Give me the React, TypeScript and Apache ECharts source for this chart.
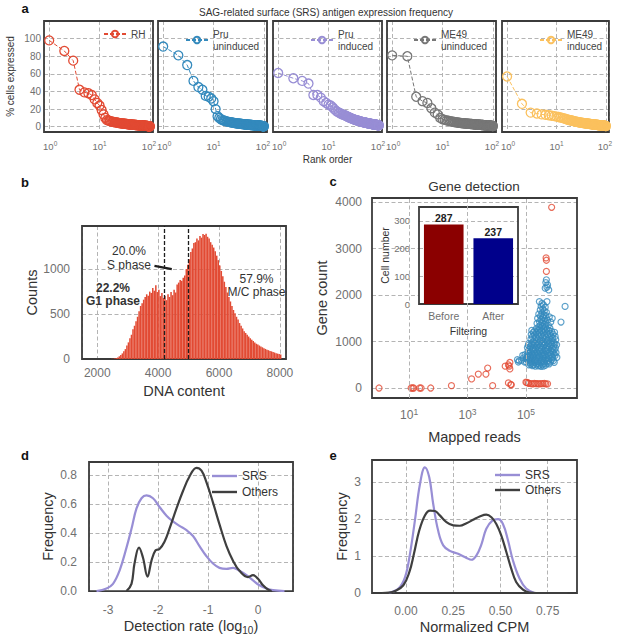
import React, { useEffect, useRef } from 'react';
import * as echarts from 'echarts';

// ---------------- panel a: SRS antigen expression frequency ----------------
const SAMPLE_NAMES = ['RH', 'Pru\nuninduced', 'Pru\ninduced', 'ME49\nuninduced', 'ME49\ninduced'];
const RH = [98, 86, 75, 42, 39, 38, 36, 31, 27, 24, 19, 14, 10, 7.5, 7, 6.5, 6, 5.7, 5.4, 5.1, 4.9, 4.7, 4.5, 4.3, 4.1, 4, 3.8, 3.7, 3.6, 3.5, 3.4, 3.3, 3.2, 3.1, 3, 2.9, 2.8, 2.8, 2.7, 2.6, 2.6, 2.5, 2.4, 2.4, 2.3, 2.3, 2.2, 2.2, 2.1, 2.1, 2, 2, 1.9, 1.9, 1.8, 1.8, 1.8, 1.7, 1.7, 1.7, 1.6, 1.6, 1.6, 1.5, 1.5, 1.5, 1.4, 1.4, 1.4, 1.3, 1.3, 1.3, 1.3, 1.2, 1.2, 1.2, 1.1, 1.1, 1.1, 1.1, 1, 1, 1, 0.9, 0.9, 0.9, 0.9, 0.8, 0.8, 0.8, 0.7, 0.7, 0.7, 0.6, 0.6, 0.6, 0.5, 0.5, 0.4, 0.3];
const PRU_UNINDUCED = [91, 81, 70, 52, 45, 42, 35, 34, 32, 29, 20, 12, 10, 8.5, 7.5, 7, 6.5, 6.1, 5.8, 5.5, 5.2, 5, 4.8, 4.6, 4.4, 4.2, 4.1, 3.9, 3.8, 3.7, 3.6, 3.5, 3.4, 3.3, 3.2, 3.1, 3, 2.9, 2.9, 2.8, 2.7, 2.7, 2.6, 2.5, 2.5, 2.4, 2.4, 2.3, 2.3, 2.2, 2.2, 2.1, 2.1, 2, 2, 1.9, 1.9, 1.9, 1.8, 1.8, 1.8, 1.7, 1.7, 1.7, 1.6, 1.6, 1.6, 1.5, 1.5, 1.5, 1.4, 1.4, 1.4, 1.3, 1.3, 1.3, 1.3, 1.2, 1.2, 1.2, 1.1, 1.1, 1.1, 1.1, 1, 1, 1, 0.9, 0.9, 0.9, 0.8, 0.8, 0.8, 0.7, 0.7, 0.7, 0.6, 0.6, 0.5, 0.4];
const PRU_INDUCED = [61, 55, 52, 49, 36, 36, 33, 29, 27, 25, 24, 22, 20, 18, 17, 16, 15.2, 14.5, 13.9, 13.4, 13, 12.4, 11.8, 11.3, 10.8, 10.4, 10, 9.6, 9.2, 8.9, 8.6, 8.3, 8, 7.8, 7.5, 7.3, 7.1, 6.9, 6.7, 6.5, 6.3, 6.1, 5.9, 5.8, 5.6, 5.5, 5.3, 5.2, 5.1, 5, 4.9, 4.8, 4.7, 4.6, 4.5, 4.4, 4.3, 4.2, 4.1, 4, 3.9, 3.8, 3.7, 3.6, 3.5, 3.5, 3.4, 3.3, 3.2, 3.2, 3.1, 3, 3, 2.9, 2.8, 2.8, 2.7, 2.7, 2.6, 2.6, 2.5, 2.5, 2.4, 2.4, 2.3, 2.3, 2.2, 2.2, 2.1, 2.1, 2, 2, 1.9, 1.9, 1.8, 1.8, 1.7, 1.7, 1.6, 1.5];
const ME49_UNINDUCED = [81, 80, 34, 29, 27, 21, 16, 14, 10, 8.5, 7.8, 7.2, 6.7, 6.3, 5.9, 5.6, 5.3, 5.1, 4.9, 4.7, 4.5, 4.4, 4.2, 4.1, 4, 3.9, 3.8, 3.7, 3.6, 3.5, 3.4, 3.4, 3.3, 3.2, 3.2, 3.1, 3, 3, 2.9, 2.9, 2.8, 2.8, 2.7, 2.7, 2.6, 2.6, 2.5, 2.5, 2.4, 2.4, 2.3, 2.3, 2.3, 2.2, 2.2, 2.1, 2.1, 2.1, 2, 2, 2, 1.9, 1.9, 1.9, 1.8, 1.8, 1.8, 1.7, 1.7, 1.7, 1.6, 1.6, 1.6, 1.6, 1.5, 1.5, 1.5, 1.4, 1.4, 1.4, 1.4, 1.3, 1.3, 1.3, 1.2, 1.2, 1.2, 1.2, 1.1, 1.1, 1.1, 1, 1, 1, 0.9, 0.9, 0.9, 0.8, 0.8, 0.7];
const ME49_INDUCED = [57, 26, 16, 15, 14, 13.5, 13, 12.5, 12, 11.5, 11, 10.5, 10, 9.5, 9, 8.5, 8, 7.6, 7.3, 7, 6.7, 6.4, 6.1, 5.9, 5.7, 5.5, 5.3, 5.1, 4.9, 4.8, 4.6, 4.5, 4.4, 4.3, 4.2, 4.1, 4, 3.9, 3.8, 3.7, 3.6, 3.5, 3.4, 3.4, 3.3, 3.2, 3.1, 3.1, 3, 2.9, 2.9, 2.8, 2.7, 2.7, 2.6, 2.6, 2.5, 2.5, 2.4, 2.4, 2.3, 2.3, 2.2, 2.2, 2.1, 2.1, 2, 2, 1.9, 1.9, 1.9, 1.8, 1.8, 1.7, 1.7, 1.7, 1.6, 1.6, 1.5, 1.5, 1.5, 1.4, 1.4, 1.4, 1.3, 1.3, 1.3, 1.2, 1.2, 1.2, 1.1, 1.1, 1.1, 1, 1, 1, 0.9, 0.9, 0.8, 0.8];
const SAMPLE_VALUES = [RH, PRU_UNINDUCED, PRU_INDUCED, ME49_UNINDUCED, ME49_INDUCED];

// ---------------- panel b: DNA content histogram ----------------
const DNA_BIN_START = 2450;
const DNA_BIN_WIDTH = 50;
const DNA_COUNTS = [
  2, 4, 6, 10, 18, 30, 45, 62, 85, 110,
  150, 185, 230, 270, 330, 370, 420, 470, 530, 590,
  620, 660, 690, 720, 705, 750, 735, 790, 760, 820,
  745, 770, 700, 735, 680, 700, 655, 720, 690, 745,
  710, 770, 740, 830, 850, 880, 870, 905, 930, 1000,
  1050, 1110, 1190, 1230, 1290, 1300, 1340, 1320, 1370, 1350,
  1390, 1380, 1395, 1360, 1340, 1300, 1270, 1240, 1200, 1150,
  1100, 1040, 980, 920, 860, 800, 740, 690, 640, 590,
  545, 510, 470, 440, 400, 370, 340, 310, 290, 270,
  250, 230, 215, 200, 185, 170, 160, 150, 140, 130,
  120, 112, 104, 98, 90, 85, 78, 72, 65, 60,
  55, 50,
];
const PHASE_CUTS = [4200, 5000];
const S_PHASE_POINTER = [[3880, 1037], [4450, 1000]];

// ---------------- panel c: gene detection ----------------
// [log10(mapped reads), gene count]
const FILTERED_CELLS = [
  [-0.03, 0], [1.07, 0], [1.12, 0], [1.16, 0], [1.36, 0], [1.41, 0], [1.74, 0], [2.45, 50], [3.14, 195], [3.37, 300],
  [3.63, 300], [3.69, 430], [3.86, 50], [4.29, 470], [4.40, 500], [4.45, 550], [4.43, 470], [4.45, 410], [4.40, 110], [4.48, 75],
  [4.50, 70], [5.00, 125], [5.03, 115], [5.08, 108], [5.11, 100], [5.18, 95], [5.24, 90], [5.29, 100], [5.34, 92], [5.40, 95],
  [5.45, 88], [5.51, 95], [5.57, 92], [5.63, 100], [5.68, 90], [5.74, 90], [5.88, 3890], [5.69, 2800], [5.70, 2750], [5.70, 2510],
];
const PASSED_CELLS = [
  [5.70, 2330], [5.68, 2270], [5.74, 2220], [5.72, 2170], [5.78, 2110], [5.66, 2150],
  [6.34, 1757], [6.20, 1420], [5.97, 552],
  [4.71, 610], [4.74, 560], [4.77, 590], [4.89, 700], [4.92, 650], [4.85, 600], [4.97, 720], [4.95, 560],
  [5.46, 1860], [5.72, 1860], [5.55, 1820], [5.60, 1790], [5.52, 1760], [5.66, 1740], [5.58, 1700], [5.49, 1680], [5.63, 1660], [5.70, 1630],
  [5.55, 1610], [5.44, 1590], [5.61, 1575], [5.68, 1560], [5.50, 1545],
  [5.80, 1530], [5.57, 1520], [5.40, 1500], [5.65, 1490], [5.52, 1470], [5.74, 1460], [5.60, 1445], [5.46, 1430], [5.85, 1420], [5.55, 1410],
  [5.69, 1400], [5.38, 1390], [5.63, 1375], [5.50, 1360], [5.77, 1350], [5.58, 1335], [5.44, 1320], [5.67, 1310], [5.53, 1300], [5.82, 1290],
  [5.36, 1280], [5.61, 1275], [5.72, 1265], [5.48, 1260], [5.90, 1500],
  [5.20, 1240], [5.30, 1230], [5.42, 1245], [5.55, 1235], [5.65, 1225], [5.78, 1240], [5.88, 1220], [5.98, 1200],
  [5.25, 1200], [5.35, 1190], [5.47, 1205], [5.60, 1195], [5.72, 1185], [5.83, 1175], [5.93, 1160],
  [5.18, 1150], [5.28, 1140], [5.40, 1155], [5.52, 1145], [5.63, 1135], [5.75, 1150], [5.86, 1125], [6.00, 1110],
  [5.22, 1100], [5.33, 1090], [5.45, 1105], [5.57, 1085], [5.68, 1095], [5.80, 1080], [5.91, 1070],
  [5.17, 1050], [5.30, 1040], [5.42, 1055], [5.54, 1035], [5.66, 1045], [5.77, 1030], [5.89, 1020], [6.02, 1040],
  [5.25, 1000], [5.37, 990], [5.49, 1005], [5.61, 985], [5.73, 995], [5.85, 980], [5.95, 975],
  [5.10, 960], [5.20, 955], [5.31, 965], [5.43, 950], [5.54, 960], [5.66, 945], [5.77, 955], [5.88, 940], [5.99, 950], [6.05, 930],
  [5.08, 920], [5.18, 910], [5.27, 925], [5.39, 915], [5.50, 905], [5.62, 920], [5.73, 900], [5.84, 915], [5.95, 895],
  [5.05, 870], [5.14, 880], [5.24, 860], [5.35, 875], [5.46, 865], [5.57, 880], [5.68, 855], [5.79, 870], [5.90, 850], [6.01, 860],
  [5.12, 830], [5.22, 820], [5.33, 835], [5.44, 815], [5.55, 825], [5.66, 810], [5.76, 830], [5.87, 805], [5.97, 820],
  [5.07, 790], [5.16, 780], [5.26, 795], [5.37, 775], [5.48, 785], [5.59, 770], [5.70, 790], [5.81, 765], [5.92, 780], [6.03, 760],
  [5.10, 745], [5.20, 735], [5.30, 750], [5.41, 730], [5.52, 740], [5.63, 725], [5.74, 745], [5.85, 720], [5.96, 735],
  [5.04, 700], [5.14, 690], [5.24, 705], [5.35, 685], [5.46, 695], [5.57, 680], [5.68, 700], [5.79, 690], [5.90, 685], [6.00, 700],
  [5.28, 720], [5.58, 712],
  [5.06, 670], [5.15, 660], [5.25, 665], [5.36, 650], [5.47, 660], [5.58, 645], [5.69, 655], [5.80, 640], [5.91, 650], [6.06, 660],
  [5.03, 625], [5.12, 615], [5.22, 630], [5.33, 610], [5.44, 620], [5.55, 605], [5.66, 615], [5.77, 600], [5.88, 610],
  [5.08, 585], [5.18, 575], [5.29, 590], [5.40, 570], [5.51, 580], [5.62, 565], [5.73, 575], [5.84, 560],
  [5.12, 545], [5.21, 535], [5.31, 550], [5.42, 530], [5.52, 540], [5.63, 525], [5.74, 535],
  [5.16, 510], [5.26, 500], [5.36, 515], [5.46, 495], [5.56, 505], [5.67, 490],
  [5.22, 480], [5.32, 470], [5.42, 475], [5.52, 468], [5.00, 640], [5.01, 560], [5.94, 590], [5.80, 520], [5.60, 470], [5.10, 500],
];
const READ_TICKS = [10, 1000, 100000];
const FILTER_STAGES = ['Before', 'After'];
const CELL_NUMBERS = [287, 237];

// ---------------- panel d: detection rate density ----------------
const DETECT_SRS = [[-3.23, 0], [-3.03, 0.018], [-2.9, 0.05], [-2.77, 0.14], [-2.63, 0.30], [-2.53, 0.43], [-2.43, 0.57], [-2.33, 0.64], [-2.23, 0.66], [-2.1, 0.64], [-1.97, 0.58], [-1.83, 0.52], [-1.7, 0.48], [-1.57, 0.45], [-1.43, 0.42], [-1.3, 0.38], [-1.17, 0.31], [-1.03, 0.24], [-0.9, 0.19], [-0.77, 0.16], [-0.63, 0.153], [-0.5, 0.16], [-0.37, 0.14], [-0.23, 0.11], [-0.1, 0.074], [0.03, 0.04], [0.17, 0.018], [0.3, 0.007], [0.53, 0]];
const DETECT_OTHERS = [[-2.63, 0], [-2.53, 0.05], [-2.47, 0.19], [-2.38, 0.30], [-2.3, 0.23], [-2.21, 0.10], [-2.13, 0.21], [-2.05, 0.28], [-1.97, 0.29], [-1.87, 0.34], [-1.77, 0.43], [-1.63, 0.57], [-1.5, 0.69], [-1.37, 0.79], [-1.23, 0.85], [-1.13, 0.83], [-1.03, 0.75], [-0.9, 0.61], [-0.77, 0.46], [-0.63, 0.31], [-0.5, 0.21], [-0.37, 0.14], [-0.2, 0.097], [-0.1, 0.11], [0, 0.085], [0.1, 0.04], [0.2, 0.011], [0.27, 0]];

// ---------------- panel e: normalized CPM density ----------------
const CPM_SRS = [[-0.093, 0], [-0.04, 0.12], [-0.005, 0.43], [0.021, 1.06], [0.047, 1.96], [0.074, 2.95], [0.1, 3.4], [0.123, 3.13], [0.144, 2.41], [0.17, 1.69], [0.197, 1.29], [0.232, 1.14], [0.276, 1.06], [0.32, 0.95], [0.346, 0.9], [0.373, 1.02], [0.4, 1.33], [0.425, 1.74], [0.457, 1.96], [0.487, 2.0], [0.513, 1.87], [0.54, 1.42], [0.566, 0.88], [0.601, 0.39], [0.636, 0.12], [0.68, 0]];
const CPM_OTHERS = [[-0.128, 0], [-0.09, 0.01], [-0.058, 0.054], [-0.014, 0.21], [0.018, 0.57], [0.042, 1.06], [0.07, 1.69], [0.1, 2.1], [0.127, 2.23], [0.153, 2.22], [0.179, 2.1], [0.214, 1.92], [0.25, 1.83], [0.285, 1.82], [0.32, 1.89], [0.355, 1.98], [0.39, 2.07], [0.425, 2.12], [0.452, 2.05], [0.478, 1.87], [0.504, 1.56], [0.531, 1.11], [0.557, 0.66], [0.583, 0.3], [0.619, 0.09], [0.654, 0.01], [0.69, 0], [0.856, 0]];
const CPM_TICKS = [0, 0.25, 0.5, 0.75];

// ---------------- styling ----------------
const FONT = '"Liberation Sans", Arial, Helvetica, sans-serif';
const TICK = '#707070';
const DARK = '#333333';
const PALETTE_A = ['#E24A33', '#348ABD', '#988ED5', '#777777', '#FBC15E'];
const SRS_COLOR = '#988ED5';
const OTHERS_COLOR = '#3f3f3f';
const GRIDLINE = { show: true, lineStyle: { color: '#b4b4b4', type: [4, 2.5], width: 1 } };
const FRAME = { show: true, borderColor: '#3b3b3b', borderWidth: 1.8, backgroundColor: 'rgba(0,0,0,0)', z: 1 };
const NO_LINE = { show: false };

const supRich = (fs: number, sfs: number) => ({
  b: { fontSize: fs, color: TICK, fontFamily: FONT, lineHeight: fs + 4 },
  s: { fontSize: sfs, color: TICK, fontFamily: FONT, verticalAlign: 'top', lineHeight: sfs + 1 },
  bl: { fontSize: fs, color: TICK, fontFamily: FONT, lineHeight: fs + 4, padding: [0, 0, 0, 2] },
  sr: { fontSize: sfs, color: TICK, fontFamily: FONT, verticalAlign: 'top', lineHeight: sfs + 1, padding: [0, 2, 0, 0] },
});
const isPow10 = (v: number) => {
  const e = Math.log10(v);
  return Math.abs(e - Math.round(e)) < 1e-6;
};
const nearMultiple = (v: number, step: number) => Math.abs(v / step - Math.round(v / step)) < 1e-6;

function rankLabel(v: number) {
  if (!isPow10(v)) return '';
  const e = Math.round(Math.log10(v));
  if (e === 0) return `{bl|10}{s|${e}}`;
  if (e === 2) return `{b|10}{sr|${e}}`;
  return `{b|10}{s|${e}}`;
}

function buildOption() {
  const aLefts = [44, 158, 273, 387, 502];
  const aLegendPos = [
    { left: 103, top: 28 },
    { left: 185, top: 28 },
    { left: 310, top: 28 },
    { left: 413, top: 28 },
    { left: 539, top: 28 },
  ];

  const grids: any[] = [
    ...aLefts.map((l) => ({ left: l, top: 21, width: 109, height: 111, ...FRAME })),
    { left: 82, top: 226, width: 204, height: 133, ...FRAME }, // 5 b
    { left: 372, top: 198, width: 205, height: 200, ...FRAME }, // 6 c
    { left: 419, top: 207, width: 99, height: 97, ...FRAME, z: 5 }, // 7 inset
    { left: 89, top: 462, width: 204, height: 132, ...FRAME }, // 8 d
    { left: 372, top: 460, width: 205, height: 133, ...FRAME }, // 9 e
  ];

  const nameStyle = (fs: number) => ({ fontSize: fs, color: DARK, fontFamily: FONT });
  const tickLabel = (fs: number, margin: number, formatter: any) => ({ fontSize: fs, color: TICK, margin, formatter, fontFamily: FONT });

  const xAxes: any[] = [
    ...aLefts.map((_, i) => ({
      type: 'log', logBase: 10, gridIndex: i, min: 0.79, max: 115,
      axisLine: NO_LINE, axisTick: NO_LINE, splitLine: GRIDLINE,
      axisLabel: { margin: 8, formatter: rankLabel, rich: supRich(9.5, 6.5) },
      name: i === 2 ? 'Rank order' : '', nameLocation: 'middle', nameGap: 22, nameTextStyle: nameStyle(10),
    })),
    {
      type: 'value', gridIndex: 5, min: 1500, max: 8200, splitNumber: 3,
      axisLine: NO_LINE, axisTick: NO_LINE, splitLine: GRIDLINE,
      axisLabel: tickLabel(12, 8, (v: number) => (nearMultiple(v, 2000) ? String(v) : '')),
      name: 'DNA content', nameLocation: 'middle', nameGap: 24, nameTextStyle: nameStyle(14.5),
    },
    {
      type: 'log', logBase: 10, gridIndex: 6, min: 0.537, max: 5.6e6,
      axisLine: NO_LINE, axisTick: NO_LINE, splitLine: { show: false }, axisLabel: { show: false },
      name: 'Mapped reads', nameLocation: 'middle', nameGap: 31, nameTextStyle: nameStyle(14.5),
    },
    {
      type: 'category', gridIndex: 7, data: FILTER_STAGES, z: 4,
      axisLine: NO_LINE, axisTick: NO_LINE, splitLine: { show: false },
      axisLabel: tickLabel(10.5, 6, undefined),
      name: 'Filtering', nameLocation: 'middle', nameGap: 21, nameTextStyle: nameStyle(10.5),
    },
    {
      type: 'value', gridIndex: 8, min: -3.38, max: 0.7, splitNumber: 4,
      axisLine: NO_LINE, axisTick: NO_LINE, splitLine: GRIDLINE,
      axisLabel: tickLabel(12, 13, (v: number) => (nearMultiple(v, 1) ? String(Math.round(v)) : '')),
      name: 'Detection rate (log{sub|10})', nameLocation: 'middle', nameGap: 20,
      nameTextStyle: { ...nameStyle(14.5), lineHeight: 18, rich: { sub: { fontSize: 10, color: DARK, fontFamily: FONT, verticalAlign: 'bottom', lineHeight: 10 } } },
    },
    {
      type: 'value', gridIndex: 9, min: -0.18, max: 0.905,
      axisLine: NO_LINE, axisTick: { show: false, customValues: CPM_TICKS }, splitLine: GRIDLINE,
      axisLabel: { ...tickLabel(12, 12, (v: number) => v.toFixed(2)), customValues: CPM_TICKS },
      name: 'Normalized CPM', nameLocation: 'middle', nameGap: 26, nameTextStyle: nameStyle(14.5),
    },
  ];

  const yAxes: any[] = [
    ...aLefts.map((_, i) => ({
      type: 'value', gridIndex: i, min: -6, max: 120, splitNumber: 6,
      axisLine: NO_LINE, axisTick: NO_LINE, splitLine: GRIDLINE,
      axisLabel: { ...tickLabel(10, 3, (v: number) => (v >= 0 && v <= 100 && nearMultiple(v, 20) ? String(v) : '')), show: i === 0 },
      name: i === 0 ? '% cells expressed' : '', nameLocation: 'middle', nameGap: 29, nameTextStyle: nameStyle(10),
    })),
    {
      type: 'value', gridIndex: 5, min: 0, max: 1480, interval: 500,
      axisLine: NO_LINE, axisTick: NO_LINE, splitLine: GRIDLINE,
      axisLabel: tickLabel(12, 12, (v: number) => (nearMultiple(v, 500) ? String(v) : '')),
      name: 'Counts', nameLocation: 'middle', nameGap: 43, nameTextStyle: nameStyle(14.5),
    },
    {
      type: 'value', gridIndex: 6, min: -215, max: 4090, splitNumber: 4,
      axisLine: NO_LINE, axisTick: NO_LINE, splitLine: GRIDLINE,
      axisLabel: tickLabel(12, 10, (v: number) => (v >= 0 && nearMultiple(v, 1000) ? String(Math.round(v)) : '')),
      name: 'Gene count', nameLocation: 'middle', nameGap: 43, nameTextStyle: nameStyle(14.5),
    },
    {
      type: 'value', gridIndex: 7, min: 0, max: 350, interval: 100, z: 4,
      axisLine: NO_LINE, axisTick: NO_LINE, splitLine: GRIDLINE,
      axisLabel: tickLabel(9.5, 9, (v: number) => (nearMultiple(v, 100) ? String(v) : '')),
      name: 'Cell number', nameLocation: 'middle', nameGap: 28, nameTextStyle: nameStyle(10.5),
    },
    {
      type: 'value', gridIndex: 8, min: 0, max: 0.89, interval: 0.2,
      axisLine: NO_LINE, axisTick: NO_LINE, splitLine: GRIDLINE,
      axisLabel: tickLabel(12, 12, (v: number) => (nearMultiple(v, 0.2) ? v.toFixed(1) : '')),
      name: 'Frequency', nameLocation: 'middle', nameGap: 34, nameTextStyle: nameStyle(14.5),
    },
    {
      type: 'value', gridIndex: 9, min: 0, max: 3.6, interval: 1,
      axisLine: NO_LINE, axisTick: NO_LINE, splitLine: GRIDLINE,
      axisLabel: tickLabel(12, 11, (v: number) => (nearMultiple(v, 1) ? String(Math.round(v)) : '')),
      name: 'Frequency', nameLocation: 'middle', nameGap: 23, nameTextStyle: nameStyle(14.5),
    },
  ];

  const series: any[] = [
    ...SAMPLE_VALUES.map((vals, i) => ({
      type: 'line', name: SAMPLE_NAMES[i], xAxisIndex: i, yAxisIndex: i,
      data: vals.map((v, k) => [k + 1, v]),
      symbol: 'circle', symbolSize: 9, showAllSymbol: true,
      lineStyle: { color: PALETTE_A[i], width: 1, type: [4, 2] },
      itemStyle: { color: 'rgba(0,0,0,0)', borderColor: PALETTE_A[i], borderWidth: 1.3 },
      emphasis: { disabled: true },
    })),
    {
      type: 'bar', name: 'DNA content', xAxisIndex: 5, yAxisIndex: 5,
      data: DNA_COUNTS.map((c, i) => [DNA_BIN_START + DNA_BIN_WIDTH * (i + 0.5), c]),
      barCategoryGap: '0%', itemStyle: { color: '#E24A33' },
      emphasis: { disabled: true },
      markLine: {
        silent: true, symbol: ['none', 'none'], label: { show: false },
        lineStyle: { color: '#1e1e1e', type: [4, 2], width: 1.3 },
        data: [
          ...PHASE_CUTS.map((x) => ({ xAxis: x })),
          [
            { coord: S_PHASE_POINTER[0], lineStyle: { color: '#1e1e1e', type: 'solid', width: 2.2 } },
            { coord: S_PHASE_POINTER[1], lineStyle: { color: '#1e1e1e', type: 'solid', width: 2.2 } },
          ],
        ],
      },
    },
    {
      type: 'scatter', name: 'Filtered', xAxisIndex: 6, yAxisIndex: 6, z: 2,
      data: FILTERED_CELLS.map(([e, g]) => [Math.pow(10, e), g]),
      symbolSize: 6,
      itemStyle: { color: 'rgba(0,0,0,0)', borderColor: '#E24A33', borderWidth: 1.2 },
      emphasis: { disabled: true },
      markLine: {
        silent: true, symbol: ['none', 'none'],
        lineStyle: { color: '#b4b4b4', type: [4, 2.5], width: 1 },
        label: {
          show: true, position: 'start', distance: 9,
          formatter: (p: any) => `{b|10}{s|${Math.round(Math.log10(p.value))}}`,
          rich: supRich(12, 8.5),
        },
        data: READ_TICKS.map((v) => ({ xAxis: v })),
      },
    },
    {
      type: 'scatter', name: 'Passed', xAxisIndex: 6, yAxisIndex: 6, z: 3,
      data: PASSED_CELLS.map(([e, g]) => [Math.pow(10, e), g]),
      symbolSize: 6,
      itemStyle: { color: 'rgba(0,0,0,0)', borderColor: '#348ABD', borderWidth: 1.2 },
      emphasis: { disabled: true },
    },
    {
      type: 'bar', name: 'Cell number', xAxisIndex: 7, yAxisIndex: 7, z: 6, barWidth: '80%',
      data: CELL_NUMBERS.map((v, i) => ({ value: v, itemStyle: { color: i === 0 ? '#8b0000' : '#00008b' } })),
      label: { show: true, position: 'top', distance: 1, fontSize: 10.5, fontWeight: 'bold', color: '#222', fontFamily: FONT },
      emphasis: { disabled: true },
    },
    {
      type: 'line', name: 'SRS', xAxisIndex: 8, yAxisIndex: 8, data: DETECT_SRS, smooth: 0.4, symbol: 'none',
      lineStyle: { color: SRS_COLOR, width: 2.2 }, itemStyle: { color: SRS_COLOR },
    },
    {
      type: 'line', name: 'Others', xAxisIndex: 8, yAxisIndex: 8, data: DETECT_OTHERS, smooth: 0.4, symbol: 'none',
      lineStyle: { color: OTHERS_COLOR, width: 2.2 }, itemStyle: { color: OTHERS_COLOR },
    },
    {
      type: 'line', name: 'SRS', xAxisIndex: 9, yAxisIndex: 9, data: CPM_SRS, smooth: 0.4, symbol: 'none',
      lineStyle: { color: SRS_COLOR, width: 2.2 }, itemStyle: { color: SRS_COLOR },
    },
    {
      type: 'line', name: 'Others', xAxisIndex: 9, yAxisIndex: 9, data: CPM_OTHERS, smooth: 0.4, symbol: 'none',
      lineStyle: { color: OTHERS_COLOR, width: 2.2 }, itemStyle: { color: OTHERS_COLOR },
    },
  ];

  const densityLegend = (left: number, top: number, gap: number) => ({
    left, top, orient: 'vertical', padding: 0, itemWidth: 25, itemHeight: 2.4, itemGap: gap,
    data: [
      { name: 'SRS', icon: 'rect', itemStyle: { color: SRS_COLOR } },
      { name: 'Others', icon: 'rect', itemStyle: { color: OTHERS_COLOR } },
    ],
    selectedMode: false, textStyle: { fontSize: 12, color: DARK, fontFamily: FONT },
  });

  const legends: any[] = [
    ...aLegendPos.map((p, i) => ({
      ...p, data: [SAMPLE_NAMES[i]], padding: 0, itemWidth: 22, itemHeight: 8, selectedMode: false,
      textStyle: { fontSize: 10, color: '#444', lineHeight: 12, fontFamily: FONT },
    })),
    densityLegend(212, 470, 4),
    densityLegend(495, 469, 3),
  ];

  const txt = (x: number, y: number, text: string, fontSize: number, extra: any = {}) => ({
    type: 'text', x, y, z: 10, silent: true,
    style: {
      text, fontSize, fontFamily: FONT, fill: DARK,
      align: 'center', textAlign: 'center', verticalAlign: 'middle', textVerticalAlign: 'middle',
      ...extra,
    },
  });

  const graphic: any[] = [
    // white background of the inset axes (covers the outer grid lines)
    { type: 'rect', z: 3, silent: true, shape: { x: 419, y: 207, width: 99, height: 97 }, style: { fill: '#ffffff' } },
    txt(25, 8, 'a', 13, { fontWeight: 'bold', fill: '#111' }),
    txt(25, 182, 'b', 13, { fontWeight: 'bold', fill: '#111' }),
    txt(333, 181, 'c', 13, { fontWeight: 'bold', fill: '#111' }),
    txt(25, 455, 'd', 13, { fontWeight: 'bold', fill: '#111' }),
    txt(333, 455, 'e', 13, { fontWeight: 'bold', fill: '#111' }),
    txt(199, 12, 'SAG-related surface (SRS) antigen expression frequency', 10, { align: 'left', textAlign: 'left' }),
    txt(474, 186, 'Gene detection', 13.5),
    txt(129, 258, '20.0%\nS phase', 12, { lineHeight: 14 }),
    txt(113, 294.5, '22.2%\nG1 phase', 12, { lineHeight: 13, fontWeight: 'bold' }),
    txt(256.5, 285.5, '57.9%\nM/C phase', 12, { lineHeight: 13 }),
  ];

  return {
    animation: false,
    backgroundColor: '#ffffff',
    textStyle: { fontFamily: FONT },
    grid: grids,
    xAxis: xAxes,
    yAxis: yAxes,
    legend: legends,
    series,
    graphic,
  };
}

export default function App() {
  const ref = useRef<HTMLDivElement>(null);
  useEffect(() => {
    document.body.style.margin = '0';
    const chart = echarts.init(ref.current as HTMLDivElement, undefined, { renderer: 'svg' });
    chart.setOption(buildOption() as any);
    return () => chart.dispose();
  }, []);
  return <div ref={ref} style={{ width: 617, height: 636, background: '#fff' }} />;
}
